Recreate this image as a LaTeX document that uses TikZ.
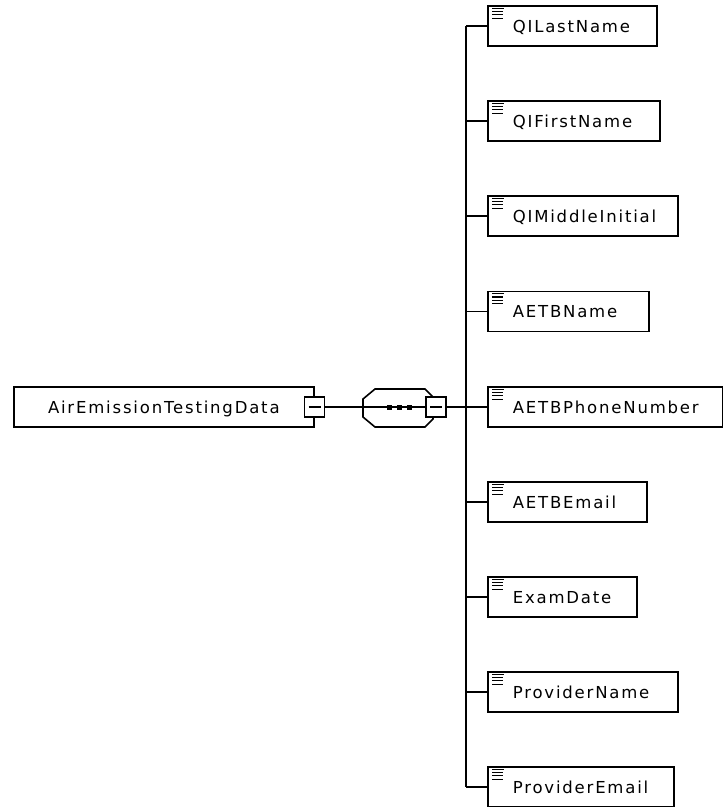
\documentclass[tikz,border=0pt]{standalone}
\usepackage{fontspec}
\newfontfamily\boxfont{DejaVu Sans}[LetterSpace=11]
\usetikzlibrary{calc}

\tikzset{
	elem/.style={draw, rectangle, minimum height=40pt, inner sep=0pt, anchor=west},
	lbl/.style={font=\boxfont\fontsize{16.5}{18}\selectfont, text height=12pt, text depth=0pt, inner sep=0pt, anchor=west},
	minusbox/.style={draw, fill=white, line width=1.4pt, minimum size=20pt, inner sep=0pt,
		path picture={\draw[line width=1.2pt] ($(path picture bounding box.west)+(4,0)$) -- ($(path picture bounding box.east)+(-4,0)$);}},
}
% 元素图标
\newcommand{\elemicon}[1]{%
	\draw[line width=1.1pt] ($(#1.north west)+(5,3)$) -- +(12,0);
	\foreach \k in {6.3,9.7,13}
		\draw[line width=1.1pt] ($(#1.north west)+(5,\k)$) -- +(11,0);}

\begin{document}
\begin{tikzpicture}[x=1pt, y=-1pt, line width=1.6pt]
	\useasboundingbox (0,0) rectangle (723,807);
	
	% 绘制根元素
	\node[elem, minimum width=300pt, font=\boxfont\fontsize{16.5}{18}\selectfont, text height=12pt, text depth=0pt] (root) at (13,407) {AirEmissionTestingData};
	\node[minusbox] (rootminus) at (root.east) {};
	
	% 绘制序列组合器
	\coordinate (seqin) at (363,407);
	\draw (363,399) -- (375,389) -- (425,389) -- (433,397) -- (433,419) -- (425,427) -- (375,427) -- (363,417) -- cycle;
	\draw (seqin) -- (426,407);
	\foreach \x in {389.5,399.5,409.5}
		\fill (\x-2.5,404.5) rectangle +(5,5);
	\node[minusbox] (seqminus) at (436,407) {};
	\draw (rootminus) -- (seqin);
	
	% 绘制子元素
	\node[elem, minimum width=169pt] (c1) at (487,26) {};
	\node[elem, minimum width=172pt] (c2) at (487,121) {};
	\node[elem, minimum width=190pt] (c3) at (487,216) {};
	\node[elem, minimum width=161pt] (c4) at (487,311.5) {};
	\node[elem, minimum width=235pt] (c5) at (487,407) {};
	\node[elem, minimum width=159pt] (c6) at (487,502) {};
	\node[elem, minimum width=149pt] (c7) at (487,597) {};
	\node[elem, minimum width=190pt] (c8) at (487,692) {};
	\node[elem, minimum width=186pt] (c9) at (487,787) {};
	
	\node[lbl] (t1) at ($(c1.west)+(25,0)$) {QILastName};
	\node[lbl] (t2) at ($(c2.west)+(25,0)$) {QIFirstName};
	\node[lbl] (t3) at ($(c3.west)+(25,0)$) {QIMiddleInitial};
	\node[lbl] (t4) at ($(c4.west)+(25,0)$) {AETBName};
	\node[lbl] (t5) at ($(c5.west)+(25,0)$) {AETBPhoneNumber};
	\node[lbl] (t6) at ($(c6.west)+(25,0)$) {AETBEmail};
	\node[lbl] (t7) at ($(c7.west)+(25,0)$) {ExamDate};
	\node[lbl] (t8) at ($(c8.west)+(25,0)$) {ProviderName};
	\node[lbl] (t9) at ($(c9.west)+(25,0)$) {ProviderEmail};
	
	\foreach \c in {c1,c2,c3,c4,c5,c6,c7,c8,c9}
		\elemicon{\c};
	
	% 绘制连线
	\coordinate (spine) at (466,407);
	\draw (seqminus) -- (spine);
	\draw (c1.west -| spine) -- (c9.west -| spine);
	\foreach \c in {c1,c2,c3,c4,c5,c6,c7,c8,c9}
		\draw (\c.west -| spine) -- (\c.west);
\end{tikzpicture}
\end{document}
